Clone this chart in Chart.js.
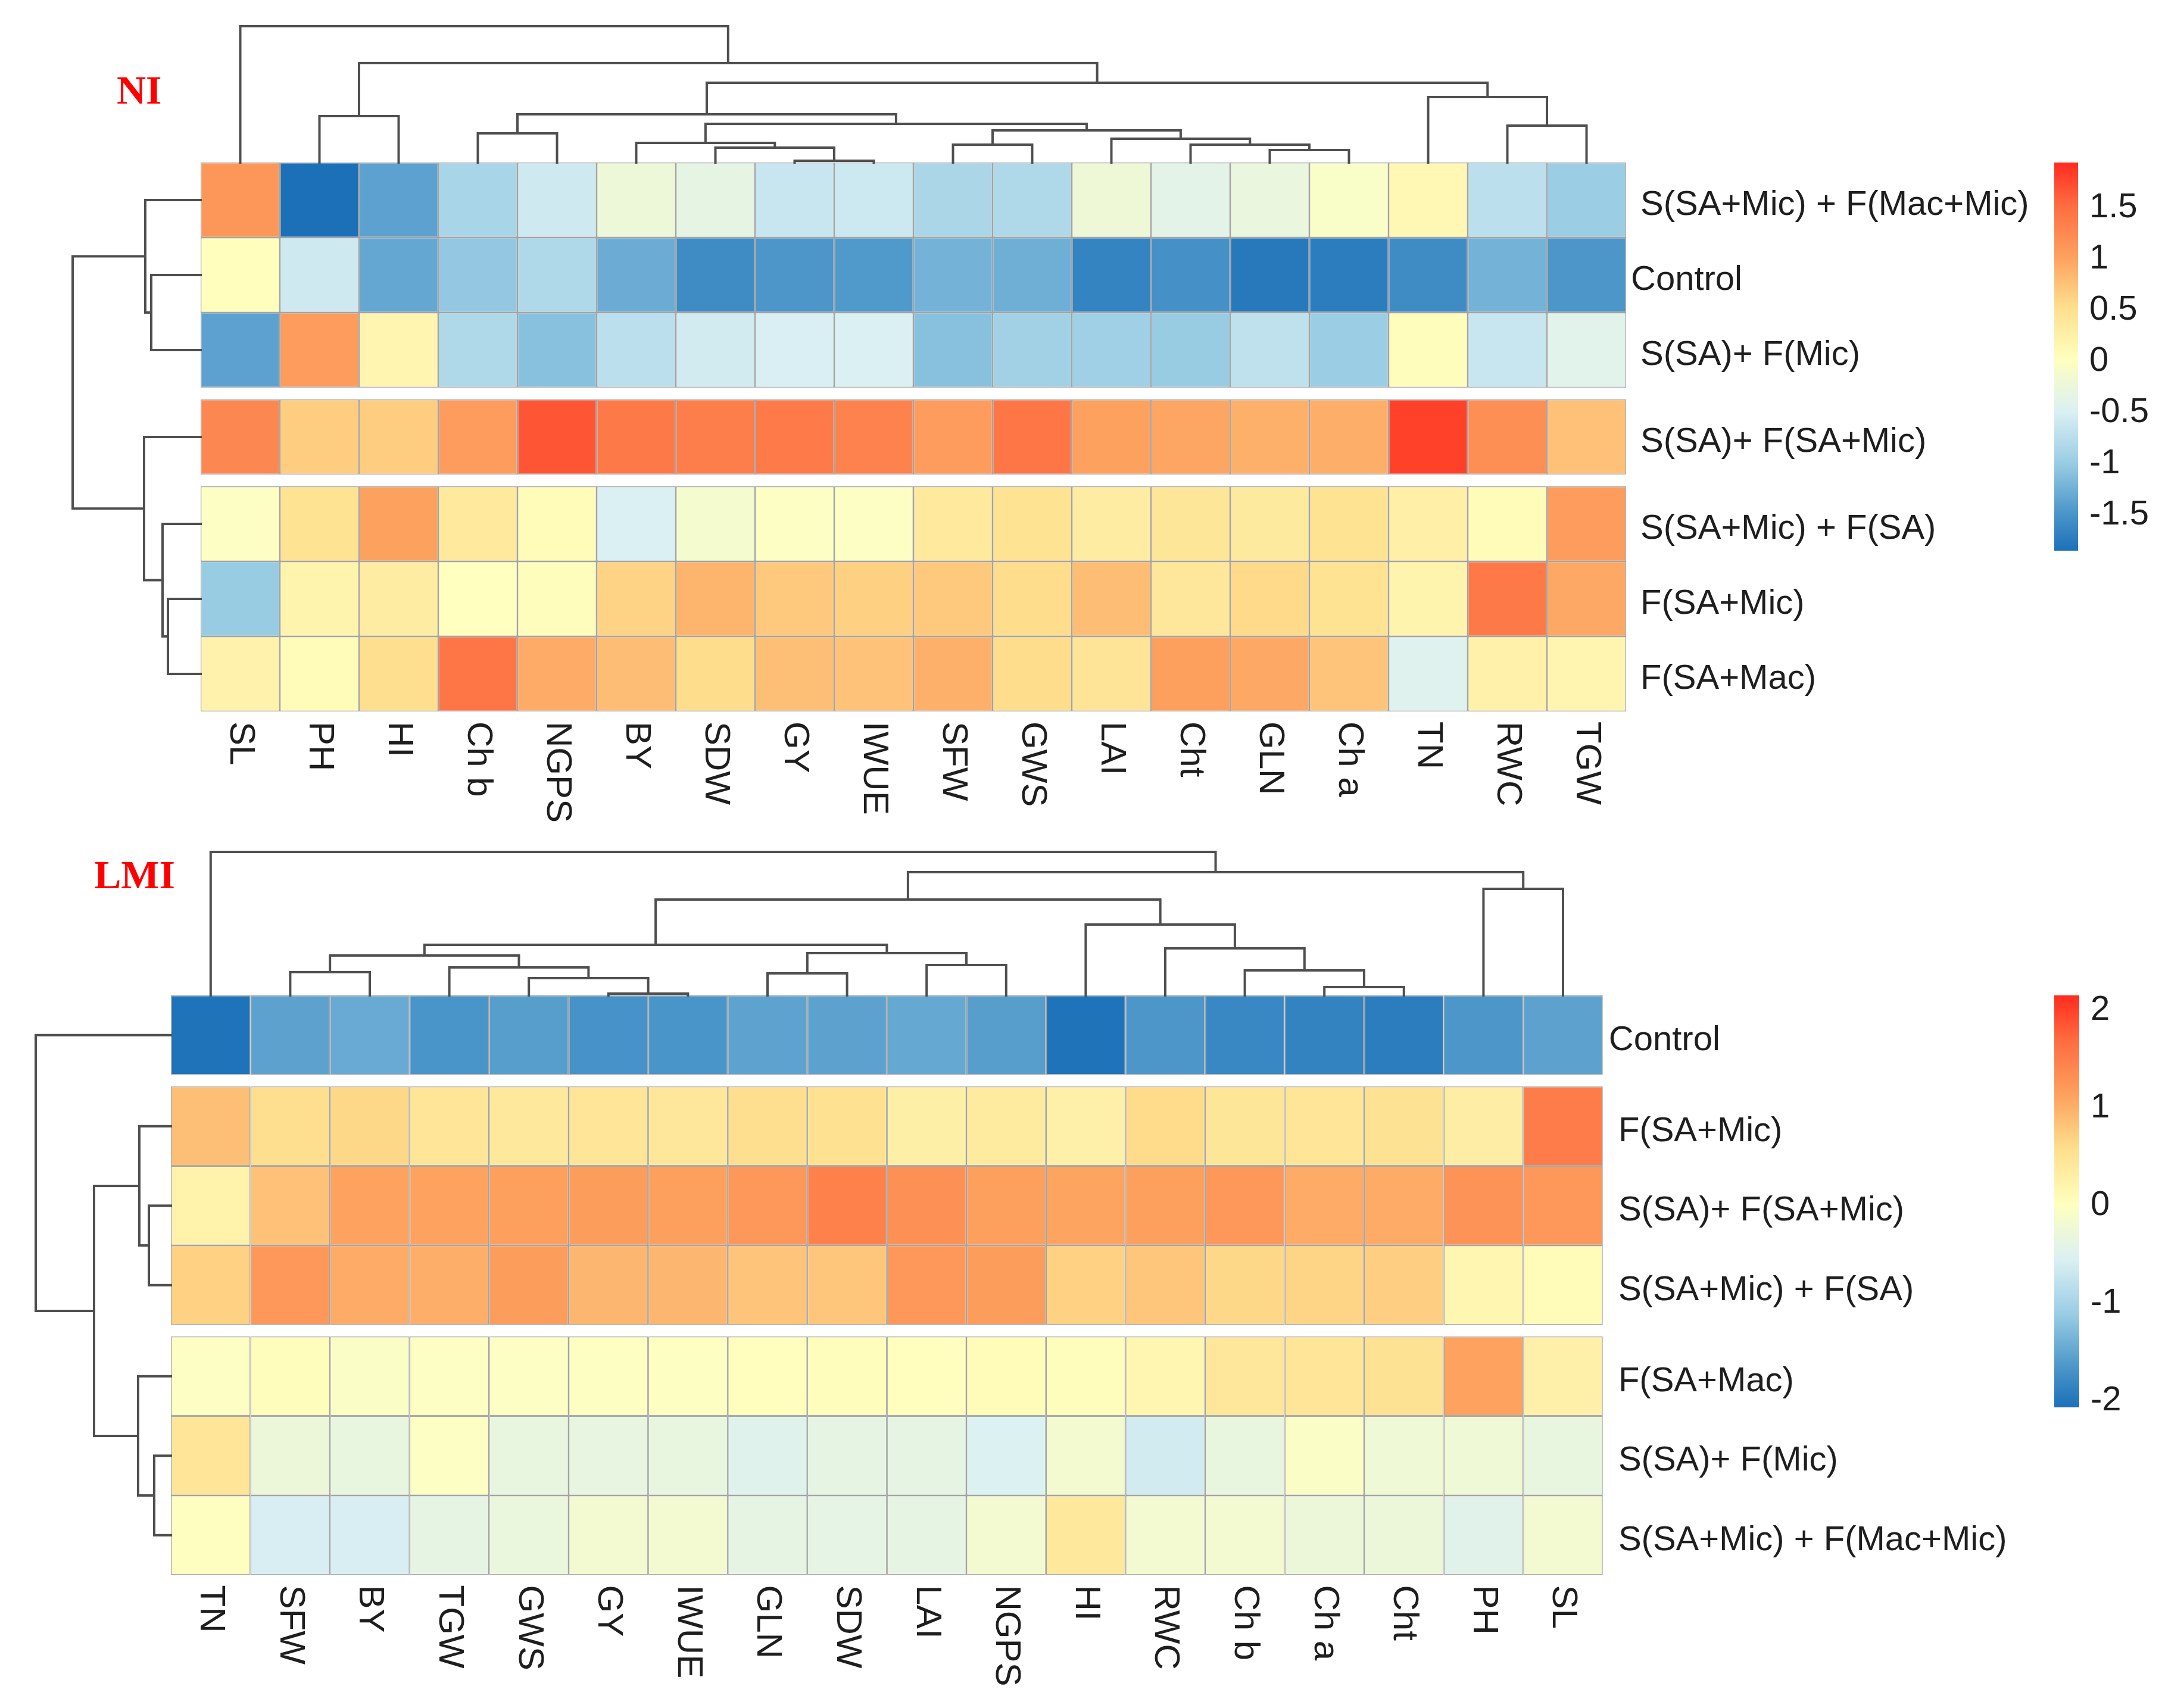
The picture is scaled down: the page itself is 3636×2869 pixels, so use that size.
<!DOCTYPE html>
<html>
<head>
<meta charset="utf-8">
<title>NI / LMI clustered heatmaps</title>
<script src="https://cdn.jsdelivr.net/npm/chart.js@4.4.1/dist/chart.umd.min.js"></script>
<style>
  html, body { margin:0; padding:0; background:#fff; }
  #wrap { position:relative; width:3636px; height:2869px; }
  canvas { position:absolute; left:0; }
  #c-ni  { top:0; }
  #c-lmi { top:1400px; }
</style>
</head>
<body>
<div id="wrap">
  <canvas id="c-ni" width="3636" height="1400"></canvas>
  <canvas id="c-lmi" width="3636" height="1469"></canvas>
</div>
<script>
// ── Data: NI ──────────────────────────────────────────────────────────────────

const niCols = ['SL','PH','HI','Ch b','NGPS','BY','SDW','GY','IWUE','SFW','GWS','LAI','Cht','GLN','Ch a','TN','RWC','TGW'];
const niRows = [' S(SA+Mic) + F(Mac+Mic)','Control',' S(SA)+ F(Mic)',' S(SA)+ F(SA+Mic)',' S(SA+Mic) + F(SA)',' F(SA+Mic)',' F(SA+Mac)'];
const niValues = [
  [ 1.10,-1.87,-1.40,-0.90,-0.60,-0.25,-0.35,-0.65,-0.62,-0.88,-0.85,-0.22,-0.40,-0.30,-0.08, 0.12,-0.75,-1.00],
  [ 0.02,-0.60,-1.35,-1.05,-0.85,-1.30,-1.60,-1.50,-1.47,-1.25,-1.28,-1.68,-1.55,-1.78,-1.74,-1.60,-1.25,-1.50],
  [-1.40, 1.05, 0.15,-0.85,-1.12,-0.75,-0.58,-0.52,-0.50,-1.12,-0.95,-0.97,-1.02,-0.72,-1.00, 0.03,-0.65,-0.42],
  [ 1.25, 0.65, 0.65, 1.05, 1.65, 1.38, 1.33, 1.37, 1.30, 1.05, 1.42, 1.00, 0.97, 0.88, 0.90, 1.78, 1.18, 0.75],
  [-0.05, 0.45, 1.00, 0.35, 0.05,-0.50,-0.15,-0.05,-0.05, 0.35, 0.45, 0.30, 0.40, 0.33, 0.45, 0.25, 0.05, 1.05],
  [-1.02, 0.18, 0.30, 0.00, 0.03, 0.60, 0.85, 0.68, 0.63, 0.68, 0.52, 0.78, 0.38, 0.55, 0.45, 0.18, 1.38, 0.95],
  [ 0.20, 0.06, 0.50, 1.42, 0.92, 0.78, 0.52, 0.77, 0.73, 0.88, 0.52, 0.42, 1.02, 0.95, 0.72,-0.45, 0.22, 0.15]
];
// hclust style: negative = leaf (1-based), positive = earlier merge (1-based)
const niColMerge  = [[-8,-9],[-14,-15],[-7,1],[-10,-11],[-13,2],[-6,3],[-12,5],[-4,-5],[4,7],[-17,-18],[6,9],[-2,-3],[8,11],[-16,10],[13,14],[12,15],[-1,16]];
const niColHeight = [3,21,25,30,30,33,40,49,54,62,65,78,81,110,134,167,229];
const niRowMerge  = [[-6,-7],[-5,1],[-2,-3],[-1,3],[-4,2],[4,5]];
const niRowHeight = [55,64,83,93,95,215];
const niGaps  = [3, 4];
const niRange = [-1.87, 1.92];
const niTicks = [1.5, 1, 0.5, 0, -0.5, -1, -1.5];

// ── Data: LMI ─────────────────────────────────────────────────────────────────

const lmiCols = ['TN','SFW','BY','TGW','GWS','GY','IWUE','GLN','SDW','LAI','NGPS','HI','RWC','Ch b','Ch a','Cht','PH','SL'];
const lmiRows = ['Control',' F(SA+Mic)',' S(SA)+ F(SA+Mic)',' S(SA+Mic) + F(SA)',' F(SA+Mac)',' S(SA)+ F(Mic)',' S(SA+Mic) + F(Mac+Mic)'];
const lmiValues = [
  [-2.06,-1.56,-1.48,-1.70,-1.60,-1.72,-1.70,-1.55,-1.56,-1.50,-1.60,-2.06,-1.68,-1.84,-1.88,-1.95,-1.68,-1.56],
  [ 0.85, 0.55, 0.62, 0.45, 0.40, 0.45, 0.42, 0.55, 0.52, 0.28, 0.35, 0.25, 0.58, 0.43, 0.45, 0.50, 0.30, 1.50],
  [ 0.22, 0.82, 1.10, 1.10, 1.12, 1.15, 1.12, 1.20, 1.45, 1.28, 1.12, 1.08, 1.12, 1.20, 1.02, 1.02, 1.25, 1.20],
  [ 0.68, 1.20, 1.02, 0.98, 1.15, 0.92, 0.92, 0.80, 0.78, 1.20, 1.15, 0.68, 0.78, 0.62, 0.65, 0.70, 0.15, 0.05],
  [-0.05, 0.03,-0.08,-0.05,-0.06,-0.04,-0.04, 0.00, 0.02, 0.00, 0.05, 0.03, 0.15, 0.42, 0.45, 0.50, 1.10, 0.25],
  [ 0.45,-0.30,-0.35,-0.05,-0.35,-0.38,-0.35,-0.50,-0.40,-0.40,-0.55,-0.18,-0.65,-0.35,-0.08,-0.25,-0.25,-0.35],
  [-0.03,-0.60,-0.60,-0.40,-0.32,-0.20,-0.20,-0.40,-0.42,-0.40,-0.20, 0.40,-0.20,-0.20,-0.30,-0.30,-0.48,-0.20]
];
const lmiColMerge  = [[-6,-7],[-15,-16],[-5,1],[-8,-9],[-2,-3],[-14,2],[-4,3],[-10,-11],[5,7],[4,8],[-13,6],[9,10],[-12,11],[12,13],[-17,-18],[14,15],[-1,16]];
const lmiColHeight = [3,14,29,37,39,42,47,51,67,71,79,85,119,161,179,207,241];
const lmiRowMerge  = [[-6,-7],[-3,-4],[-2,2],[-5,1],[3,4],[-1,5]];
const lmiRowHeight = [28,37,53,55,129,227];
const lmiGaps  = [1, 4];
const lmiRange = [-2.09, 2.13];
const lmiTicks = [2, 1, 0, -1, -2];

// ── Colour ramp ───────────────────────────────────────────────────────────────

const rampAt  = [0, 0.10, 0.227, 0.36, 0.493, 0.627, 0.76, 0.893, 1];
const rampCol = ['#1b70b8','#4d97ca','#9acde4','#dbf0f3','#ffffbf','#fedf8e','#fda05e','#fe6b40','#ff2b1f'];

function hex(c) { return [1,3,5].map(i => parseInt(c.substr(i,2),16)); }

function colorFor(v, range) {
  const t = Math.max(0, Math.min(1, (v-range[0])/(range[1]-range[0])));
  let k = 1;
  while (k < rampAt.length-1 && t > rampAt[k]) k++;
  const f = (t-rampAt[k-1])/(rampAt[k]-rampAt[k-1]);
  const a = hex(rampCol[k-1]), b = hex(rampCol[k]);
  return `rgb(${a.map((x,i)=>Math.round(x+(b[i]-x)*f)).join(',')})`;
}

// ── Dendrogram → line points ──────────────────────────────────────────────────

function dendro(merge, height, leafPos, toPoint) {
  const pos = [], hgt = [], pts = [];
  const at = c => c < 0 ? [leafPos[-c-1], 0] : [pos[c-1], hgt[c-1]];
  merge.forEach(([a,b], k) => {
    const [pa,ha] = at(a), [pb,hb] = at(b), h = height[k];
    pos.push((pa+pb)/2); hgt.push(h);
    pts.push(toPoint(pa,ha), toPoint(pa,h), toPoint(pb,h), toPoint(pb,hb), {x:null, y:null});
  });
  return pts;
}

// ── Panel ─────────────────────────────────────────────────────────────────────

function drawPanel(id, p) {
  const canvas = document.getElementById(id);
  const W = canvas.width, H = canvas.height;
  const gapU    = p.gap/p.cellH;
  const rowTop  = r => r + p.gaps.filter(g => r >= g).length*gapU;
  const rowsEnd = p.rows.length + p.gaps.length*gapU;
  const rowMid  = p.rows.map((n,r) => rowTop(r)+0.5);

  const cells = p.rows.map((name, r) => ({
    type:'bar', label:name,
    data: p.cols.map((c,i) => ({x:i+0.5, y:[rowTop(r), rowTop(r)+1]})),
    backgroundColor: p.values[r].map(v => colorFor(v, p.range)),
    borderColor:'#a4a4a4', borderWidth:1.5, borderSkipped:false,
    grouped:false, barPercentage:1, categoryPercentage:1, maxBarThickness:p.cellW,
    inflateAmount:0, order:2
  }));
  const tree = (label, pts) => ({
    type:'line', label, data:pts, borderColor:'#4f4f4f', borderWidth:4,
    pointRadius:0, fill:false, tension:0, spanGaps:false,
    borderJoinStyle:'miter', borderCapStyle:'square', order:1
  });
  const colTree = dendro(p.colMerge, p.colHeight, p.cols.map((c,i)=>i+0.5), (q,h)=>({x:q, y:-h/p.cellH}));
  const rowTree = dendro(p.rowMerge, p.rowHeight, rowMid, (q,h)=>({x:-h/p.cellW, y:q}));

  const textPlugin = {
    id:'panelText',
    afterDatasetsDraw(chart) {
      const {ctx, scales:{x, y}} = chart;
      ctx.save();
      ctx.fillStyle = '#1e1e1e';
      ctx.font = '58px "Liberation Sans", Arial, sans-serif';
      ctx.textBaseline = 'middle';
      ctx.textAlign = 'left';
      const right = x.getPixelForValue(p.cols.length);
      p.rows.forEach((name, r) => ctx.fillText(name, right+p.labelDx, y.getPixelForValue(rowMid[r])+9));
      ctx.font = '60px "Liberation Sans", Arial, sans-serif';
      const below = y.getPixelForValue(rowsEnd) + 17;
      p.cols.forEach((name, i) => {
        ctx.save();
        ctx.translate(x.getPixelForValue(i+0.5), below);
        ctx.rotate(Math.PI/2);
        ctx.fillText(name, 0, 0);
        ctx.restore();
      });
      // colour key
      const top = y.getPixelForValue(0), k = p.key;
      const g = ctx.createLinearGradient(0, top, 0, top+k.h);
      rampAt.forEach((t,i) => g.addColorStop(1-t, rampCol[i]));
      ctx.fillStyle = g;
      ctx.fillRect(k.x, top, k.w, k.h);
      ctx.fillStyle = '#1e1e1e';
      ctx.font = '58px "Liberation Sans", Arial, sans-serif';
      p.ticks.forEach(v => {
        const ty = top + (p.range[1]-v)/(p.range[1]-p.range[0])*k.h;
        ctx.fillText(String(v), k.x+k.w+19, ty+4);
      });
      // panel title
      ctx.fillStyle = '#ff0000';
      ctx.font = 'bold 68px "Liberation Serif", "Times New Roman", serif';
      ctx.textBaseline = 'alphabetic';
      ctx.fillText(p.title.text, p.title.x, p.title.y);
      ctx.restore();
    }
  };

  return new Chart(canvas, {
    type:'bar',
    data:{ datasets:[...cells, tree('col tree', colTree), tree('row tree', rowTree)] },
    options:{
      responsive:false, animation:false, events:[],
      layout:{ padding:0 },
      plugins:{ legend:{display:false}, tooltip:{enabled:false} },
      scales:{
        x:{ type:'linear', display:false, offset:false, min:-p.left/p.cellW, max:(W-p.left)/p.cellW },
        y:{ type:'linear', display:false, reverse:true, stacked:false, min:-p.top/p.cellH, max:(H-p.top)/p.cellH }
      }
    },
    plugins:[textPlugin]
  });
}

drawPanel('c-ni', {
  cols:niCols, rows:niRows, values:niValues, range:niRange, ticks:niTicks, gaps:niGaps,
  colMerge:niColMerge, colHeight:niColHeight, rowMerge:niRowMerge, rowHeight:niRowHeight,
  left:337, top:273, cellW:133, cellH:126, gap:20, labelDx:8,
  key:{x:3450, w:40, h:652}, title:{text:'NI', x:196, y:174}
});

drawPanel('c-lmi', {
  cols:lmiCols, rows:lmiRows, values:lmiValues, range:lmiRange, ticks:lmiTicks, gaps:lmiGaps,
  colMerge:lmiColMerge, colHeight:lmiColHeight, rowMerge:lmiRowMerge, rowHeight:lmiRowHeight,
  left:287, top:272, cellW:133.6, cellH:133.5, gap:19.5, labelDx:10,
  key:{x:3450, w:42, h:692}, title:{text:'LMI', x:158, y:92}
});
</script>
</body>
</html>
